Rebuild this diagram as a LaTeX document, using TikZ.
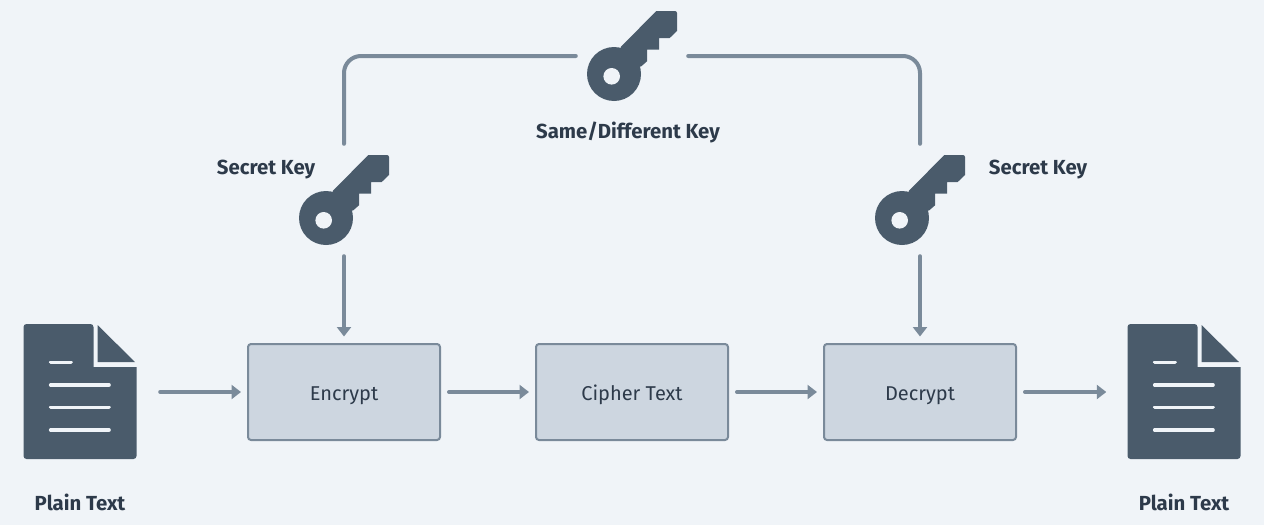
\documentclass[tikz,border=0pt]{standalone}
\usepackage{fontspec}
\setmainfont{Fira Sans}
\usetikzlibrary{arrows.meta}
\definecolor{bgc}{HTML}{F0F4F8}
\definecolor{iconc}{HTML}{4A5B6B}
\definecolor{linec}{HTML}{7A8A9A}
\definecolor{boxc}{HTML}{CDD6E0}
\definecolor{textc}{HTML}{2D3A4A}
\tikzset{
  x=1pt,y=-1pt,
  flow/.style={draw=linec,line width=4pt,line cap=round},
  arrowed/.style={flow,-{Triangle[length=9.5pt,width=14pt]}},
  stepbox/.style={draw=linec,line width=2pt,fill=boxc,rounded corners=3pt,minimum width=192pt,minimum height=96pt,inner sep=0pt,text=textc,text height=20pt,text depth=4pt,font=\fontsize{20}{24}\selectfont},
  title/.style={text=textc,inner sep=0pt,text height=18pt,text depth=4pt,font=\fontsize{20.35}{24}\selectfont\bfseries},
  iconbox/.style={inner sep=0pt,minimum width=90pt,minimum height=90pt},
  docbox/.style={inner sep=0pt,minimum width=113pt,minimum height=135pt},
  keyicon/.pic={
    \fill[iconc] (-11,-9.3) -- (24.3,-45) -- (43,-45) arc[start angle=-90,end angle=0,radius=2] -- (45,-25) -- (37.7,-18) -- (27,-18) -- (27,-6.3) -- (15,-6.3) -- (15,5.3) -- (9.3,10.3) -- (-18,18) -- cycle;
    \fill[iconc] (-18,18) circle[radius=27];
    \fill[bgc] (-20.3,20.3) circle[radius=8.3];
  },
  docicon/.pic={
    \fill[iconc,rounded corners=3pt] (-56.5,-68) -- (13.5,-68) [sharp corners] -- (13.5,-25) -- (56.5,-25) [rounded corners=3pt] -- (56.5,67) -- (-56.5,67) -- cycle;
    \fill[iconc] (17.5,-67) -- (17.5,-30) -- (55,-30) -- cycle;
    \draw[bgc,line width=3.6pt,line cap=round] (-29.3,-29.7) -- (-9,-29.7) (-29.3,-7) -- (29,-7) (-29.3,15.3) -- (29,15.3) (-29.3,38) -- (29,38);
  }
}
\begin{document}
\begin{tikzpicture}
\path[use as bounding box,fill=bgc] (0,0) rectangle (1264,525);
\node[docbox] (docA) at (80,392) {};
\node[docbox] (docB) at (1184,392) {};
\node[iconbox] (keyA) at (344,200) {};
\node[iconbox] (keyT) at (632,56) {};
\node[iconbox] (keyB) at (920,200) {};
\pic at (docA) {docicon};
\pic at (docB) {docicon};
\pic at (keyA) {keyicon};
\pic at (keyT) {keyicon};
\pic at (keyB) {keyicon};
\node[stepbox] (enc) at (344,392) {Encrypt};
\node[stepbox] (cip) at (632,392) {Cipher Text};
\node[stepbox] (dec) at (920,392) {Decrypt};
\node[title] (t1) at (80,503) {Plain Text};
\node[title] (t2) at (1184,503) {Plain Text};
\node[title] (t3) at (266,167) {Secret Key};
\node[title] (t4) at (1038,167) {Secret Key};
\node[title] (t5) at (628,131) {Same/Different Key};
\draw[arrowed,shorten <=23.5pt,shorten >=6pt] (docA.east) -- (enc.west);
\draw[arrowed,shorten <=8pt,shorten >=6pt] (enc.east) -- (cip.west);
\draw[arrowed,shorten <=8pt,shorten >=6pt] (cip.east) -- (dec.west);
\draw[arrowed,shorten <=8pt,shorten >=21pt] (dec.east) -- (docB.west);
\draw[arrowed,shorten <=11pt,shorten >=6.5pt] (keyA.south) -- (enc.north);
\draw[arrowed,shorten <=11pt,shorten >=6.5pt] (keyB.south) -- (dec.north);
\draw[flow,rounded corners=17pt,shorten <=11pt,shorten >=11pt] (keyA.north) |- (keyT.west);
\draw[flow,rounded corners=17pt,shorten <=11pt,shorten >=11pt] (keyB.north) |- (keyT.east);
\end{tikzpicture}
\end{document}
